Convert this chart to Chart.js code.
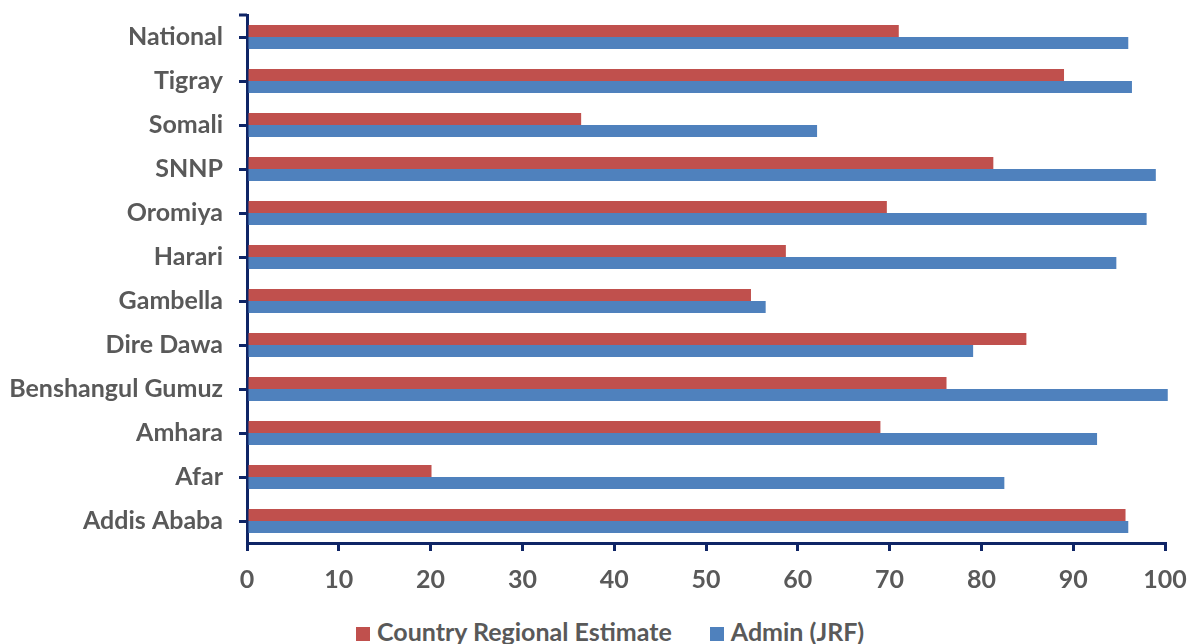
<!DOCTYPE html>
<html>
<head>
<meta charset="utf-8">
<script src="https://cdn.jsdelivr.net/npm/chart.js@4.4.0/dist/chart.umd.min.js"></script>
<style>
  html, body { margin: 0; padding: 0; background: #fff; overflow: hidden; }
  #wrap { position: relative; width: 1189px; height: 644px; }
  #plot { width: 1189px; height: 614px; }
  #legend {
    position: absolute; top: 616px; left: 356px;
    display: flex; align-items: center;
    font: bold 25px Lato; color: #595959; line-height: 30px; white-space: nowrap;
  }
  #legend .item { display: flex; align-items: center; margin-right: 38px; }
  #legend .box { width: 14px; height: 14px; margin-right: 7px; position: relative; top: 3px; }
</style>
</head>
<body>
<div id="wrap">
  <div id="plot"><canvas id="chart"></canvas></div>
  <div id="legend"></div>
</div>
<script>
// --- data (top to bottom) ---
const regions = ["National", "Tigray", "Somali", "SNNP", "Oromiya", "Harari",
  "Gambella", "Dire Dawa", "Benshangul Gumuz", "Amhara", "Afar", "Addis Ababa"];
const regionalEstimate = [71.0, 89.0, 36.4, 81.3, 69.7, 58.7, 54.9, 84.9, 76.2, 69.0, 20.1, 95.7];
const adminJrf = [96.0, 96.4, 62.1, 99.0, 98.0, 94.7, 56.5, 79.1, 100.3, 92.6, 82.5, 96.0];
const xTicks = [0, 10, 20, 30, 40, 50, 60, 70, 80, 90, 100];

const navy = "#0f2566";
const grey = "#595959";

// petit trait en haut de l'axe vertical
const topTick = {
  id: "topTick",
  afterDraw(chart) {
    const { ctx, chartArea } = chart;
    ctx.save();
    ctx.strokeStyle = navy;
    ctx.lineWidth = 3;
    ctx.beginPath();
    ctx.moveTo(chartArea.left - 8, chartArea.top);
    ctx.lineTo(chartArea.left, chartArea.top);
    ctx.stroke();
    ctx.restore();
  }
};

const chart = new Chart(document.getElementById("chart"), {
  type: "bar",
  data: {
    labels: regions,
    datasets: [
      {
        label: "Country Regional Estimate",
        data: regionalEstimate,
        backgroundColor: "#C0504D",
        categoryPercentage: 0.545,
        barPercentage: 1.0
      },
      {
        label: "Admin (JRF)",
        data: adminJrf,
        backgroundColor: "#4F81BD",
        categoryPercentage: 0.545,
        barPercentage: 1.0,
        clip: false
      }
    ]
  },
  options: {
    indexAxis: "y",
    responsive: true,
    maintainAspectRatio: false,
    animation: false,
    layout: { padding: 0 },
    scales: {
      x: {
        min: 0,
        max: 100,
        afterBuildTicks: (scale) => { scale.ticks = xTicks.map(v => ({ value: v })); },
        afterFit: (scale) => {
          scale.height = 71;
          scale.paddingLeft = 0;
          scale.paddingRight = 24;
        },
        grid: { drawOnChartArea: false, drawTicks: true, tickLength: 8, color: navy, lineWidth: 3 },
        border: { color: navy, width: 3 },
        ticks: { color: grey, font: { family: "Lato", size: 25, weight: "bold" }, padding: 14 }
      },
      y: {
        afterFit: (scale) => {
          scale.width = 247;
          scale.paddingTop = 15;
          scale.paddingBottom = 0;
        },
        grid: { drawOnChartArea: false, drawTicks: true, tickLength: 8, color: navy, lineWidth: 3, offset: false },
        border: { color: navy, width: 3 },
        ticks: { color: grey, font: { family: "Lato", size: 25, weight: "bold" }, padding: 16 }
      }
    },
    plugins: {
      legend: { display: false },
      tooltip: { enabled: false }
    }
  },
  plugins: [topTick]
});

// --- Légende HTML ---
const legendEl = document.getElementById("legend");
chart.data.datasets.forEach(ds => {
  const item = document.createElement("div");
  item.className = "item";
  const box = document.createElement("span");
  box.className = "box";
  box.style.background = ds.backgroundColor;
  const txt = document.createElement("span");
  txt.textContent = ds.label;
  item.appendChild(box);
  item.appendChild(txt);
  legendEl.appendChild(item);
});
</script>
</body>
</html>
